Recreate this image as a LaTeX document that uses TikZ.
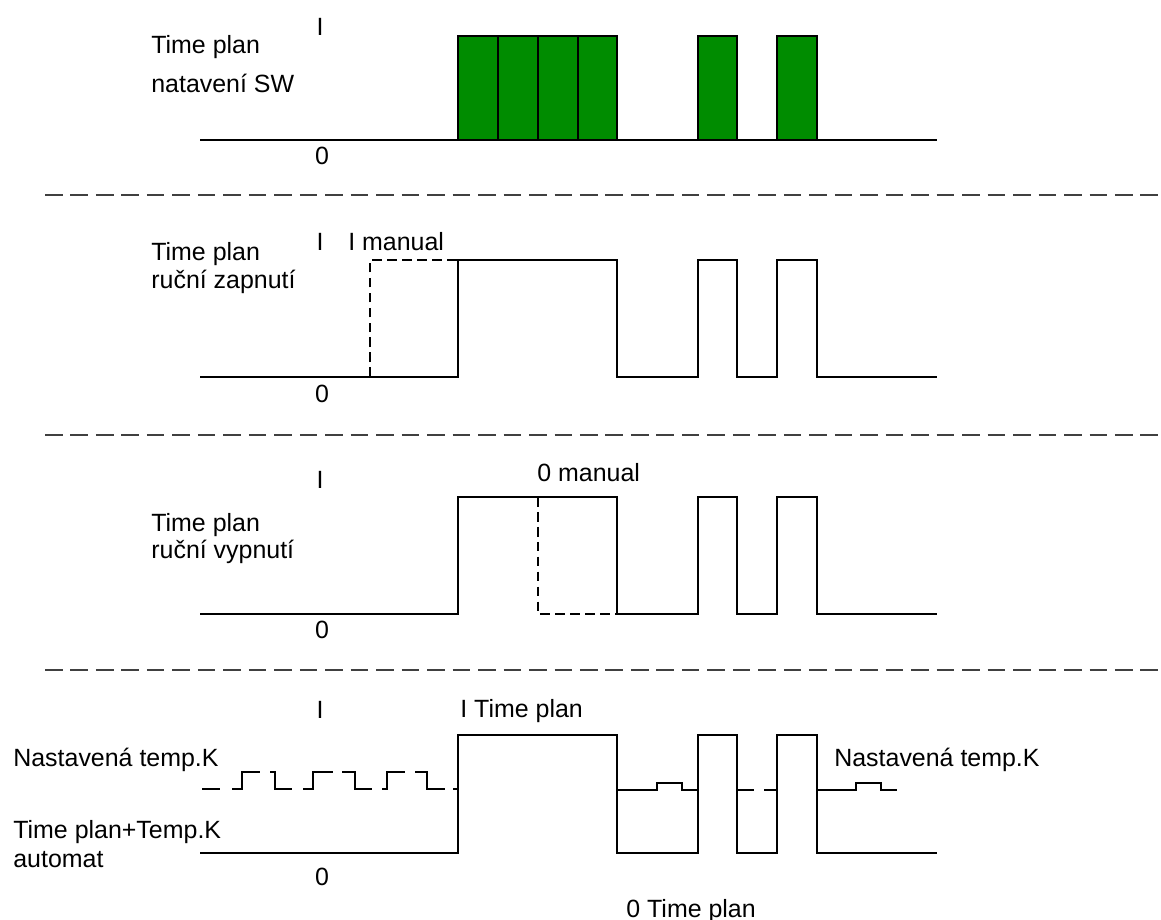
\documentclass[tikz,border=0pt]{standalone}
\usepackage{fontspec}
\setmainfont{Liberation Sans}
\definecolor{PlanGreen}{RGB}{0,140,0}
\tikzset{
    signal/.style={
        line width=1.1pt, line join=miter
    },
    manualline/.style={
        line width=1.1pt, dash pattern=on 5.5pt off 3pt
    },
    separator/.style={
        line width=1.1pt, black!75, dash pattern=on 10pt off 4.5pt
    },
    slot/.style={
        draw, line width=1.1pt, fill=PlanGreen
    },
    txt/.style={
        font=\fontsize{14.2}{17}\selectfont, inner sep=0pt, anchor=base west
    },
    lvl/.style={
        font=\fontsize{14.2}{17}\selectfont, inner sep=0pt, anchor=base
    }
}

\begin{document}
\begin{tikzpicture}[x=0.02cm, y=-0.02cm]
    \useasboundingbox (0,0) rectangle (1161,920);
    % separators
    \foreach \y in {195,435,670}
        \draw[separator] (45,\y) -- (1161,\y);

    % time plan, SW setting
    \draw[signal] (200,140) -- (937,140);
    \foreach \a/\b in {458/498, 498/538, 538/578, 578/617, 698/737, 777/817}
        \draw[slot] (\a,36) rectangle (\b,140);
    \node[lvl] (swI) at (320,35) {I};
    \node[lvl] (sw0) at (322,164) {0};
    \node[txt] (swA) at (151,53) {Time plan};
    \node[txt] (swB) at (151,92) {natavení SW};

    % manual on
    \draw[signal] (200,377) -- (458,377) -- (458,260) -- (617,260) -- (617,377)
        -- (698,377) -- (698,260) -- (737,260) -- (737,377) -- (777,377)
        -- (777,260) -- (817,260) -- (817,377) -- (937,377);
    \draw[manualline] (370,377) -- (370,260) -- (458,260);
    \node[lvl] (onI) at (320,250) {I};
    \node[txt] (onM) at (348,250) {I manual};
    \node[lvl] (on0) at (322,402) {0};
    \node[txt] (onA) at (151,260) {Time plan};
    \node[txt] (onB) at (151,288) {ruční zapnutí};

    % manual off
    \draw[signal] (200,614) -- (458,614) -- (458,497) -- (617,497) -- (617,614)
        -- (698,614) -- (698,497) -- (737,497) -- (737,614) -- (777,614)
        -- (777,497) -- (817,497) -- (817,614) -- (937,614);
    \draw[manualline] (538,497) -- (538,614) -- (617,614);
    \node[lvl] (offI) at (320,488) {I};
    \node[txt] (offM) at (537,481) {0 manual};
    \node[lvl] (off0) at (322,638) {0};
    \node[txt] (offA) at (151,531) {Time plan};
    \node[txt] (offB) at (151,558) {ruční vypnutí};

    % time plan + thermostat
    \draw[signal] (200,853) -- (458,853) -- (458,735) -- (617,735) -- (617,853)
        -- (698,853) -- (698,735) -- (737,735) -- (737,853) -- (777,853)
        -- (777,735) -- (817,735) -- (817,853) -- (937,853);
    \draw[signal] (202,789) -- (220,789);
    \foreach \a/\r/\b in {232/242/260, 303/313/333, 382/387/405}
        \draw[signal] (\a,789) -- (\r,789) -- (\r,772) -- (\b,772);
    \foreach \a/\f/\b in {270/275/292, 342/355/372, 415/427/445}
        \draw[signal] (\a,772) -- (\f,772) -- (\f,789) -- (\b,789);
    \draw[signal] (453,789) -- (458,789);
    \draw[signal] (617,790) -- (657,790) -- (657,783) -- (682,783) -- (682,790) -- (698,790);
    \draw[signal] (737,790) -- (754,790);
    \draw[signal] (764,790) -- (777,790);
    \draw[signal] (817,790) -- (856,790) -- (856,783) -- (881,783) -- (881,790) -- (897,790);
    \node[lvl] (autoI) at (320,718) {I};
    \node[txt] (autoOn) at (460,717) {I Time plan};
    \node[lvl] (auto0) at (322,885) {0};
    \node[txt] (autoOff) at (626,917) {0 Time plan};
    \node[txt] (tempL) at (13,766) {Nastavená temp.K};
    \node[txt] (tempR) at (834,766) {Nastavená temp.K};
    \node[txt] (autoA) at (13,838) {Time plan+Temp.K};
    \node[txt] (autoB) at (13,867) {automat};
\end{tikzpicture}
\end{document}
